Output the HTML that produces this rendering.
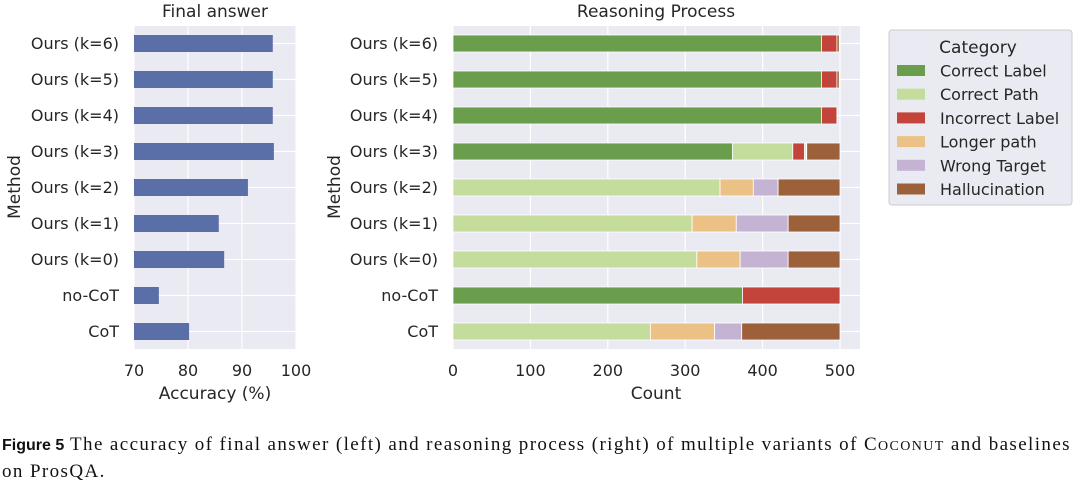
<!DOCTYPE html>
<html><head><meta charset="utf-8"><style>
body{margin:0;background:#fff;width:1080px;height:488px;overflow:hidden;font-family:"DejaVu Sans","Liberation Sans",sans-serif}
svg text{font-family:"DejaVu Sans","Liberation Sans",sans-serif;fill:#262626}
.cap{position:absolute;left:2px;top:432px;font-family:"Liberation Serif",serif;font-size:19px;letter-spacing:1.4px;line-height:25px;color:#111;width:1078px;white-space:nowrap}
</style></head><body>
<svg id="chart" width="1080" height="430" style="position:absolute;left:0;top:0"></svg>
<div class="cap"><b style="font-family:'Liberation Sans',sans-serif;font-size:16px;letter-spacing:0">Figure 5</b> The accuracy of final answer (left) and reasoning process (right) of multiple variants of C<span style="font-size:14px">OCONUT</span> and baselines<br>on ProsQA.</div>
<script>
const methods=["Ours (k=6)","Ours (k=5)","Ours (k=4)","Ours (k=3)","Ours (k=2)","Ours (k=1)","Ours (k=0)","no-CoT","CoT"];
const accuracy=[95.7,95.7,95.7,95.9,91.1,85.7,86.7,74.6,80.2];
const accTicks=[70,80,90,100];
const cntTicks=[0,100,200,300,400,500];
const categories=["Correct Label","Correct Path","Incorrect Label","Longer path","Wrong Target","Hallucination"];
const colors=["#6a9d4c","#c4dd9c","#c2443a","#ecc185","#c4b3d2","#9c613b"];
const correctLabel=[476,476,476,361,0,0,0,374,0];
const correctPath=[0,0,0,78,345,309,315,0,255];
const incorrectLabel=[20,20,20,15,0,0,0,126,0];
const longerPath=[0,0,0,2,43,57,56,0,83];
const wrongTarget=[0,0,0,1,32,67,62,0,35];
const hallucination=[3,3,0,43,80,67,67,0,127];
const series=[correctLabel,correctPath,incorrectLabel,longerPath,wrongTarget,hallucination];
const NS="http://www.w3.org/2000/svg";
const svg=document.getElementById('chart');
function el(t,a,txt){const e=document.createElementNS(NS,t);for(const k in a)e.setAttribute(k,a[k]);if(txt!=null)e.textContent=txt;svg.appendChild(e);return e;}
const topY=26,botY=349,rowH=36;
const yRow=i=>topY+17.5+i*rowH;
// Left panel
const L0=134,L1=296;
const xA=v=>L0+(v-70)/30*(L1-L0);
let r=el('rect',{x:L0,y:topY,width:L1-L0,height:botY-topY,fill:'#eaeaf2'});

accTicks.forEach(t=>{let g=el('line',{x1:xA(t),x2:xA(t),y1:topY,y2:botY,stroke:'#fff','stroke-width':1.2});

let tx=el('text',{x:xA(t),y:376,'text-anchor':'middle','font-size':16},t);
});
methods.forEach((m,i)=>{let g=el('line',{x1:L0,x2:L1,y1:yRow(i),y2:yRow(i),stroke:'#fff','stroke-width':1.2});
});
methods.forEach((m,i)=>{let b=el('rect',{x:L0,y:yRow(i)-8.5,width:xA(accuracy[i])-L0,height:17,fill:'#5a6fa8'});

let t=el('text',{x:L0-15,y:yRow(i)+5.5,'text-anchor':'end','font-size':16},m);
});
let tt=el('text',{x:215,y:17,'text-anchor':'middle','font-size':17},'Final answer');

tt=el('text',{x:215,y:399,'text-anchor':'middle','font-size':17},'Accuracy (%)');

tt=el('text',{x:0,y:0,'text-anchor':'middle','font-size':17,transform:'translate(20,187) rotate(-90)'},'Method');

// Right panel
const R0=453,R1=860;
const xC=v=>R0+v*0.774;
r=el('rect',{x:R0,y:topY,width:R1-R0,height:botY-topY,fill:'#eaeaf2'});

cntTicks.forEach(t=>{let g=el('line',{x1:xC(t),x2:xC(t),y1:topY,y2:botY,stroke:'#fff','stroke-width':1.2});

let tx=el('text',{x:xC(t),y:376,'text-anchor':'middle','font-size':16},t);
});
methods.forEach((m,i)=>{let g=el('line',{x1:R0,x2:R1,y1:yRow(i),y2:yRow(i),stroke:'#fff','stroke-width':1.2});
});
methods.forEach((m,i)=>{let acc=0;
series.forEach((s,k)=>{if(s[i]>0){let b=el('rect',{x:xC(acc),y:yRow(i)-8.5,width:s[i]*0.774,height:17,fill:colors[k],stroke:'#fff','stroke-width':0.8});
}acc+=s[i];});
let t=el('text',{x:R0-15,y:yRow(i)+5.5,'text-anchor':'end','font-size':16},m);
});
tt=el('text',{x:656,y:17,'text-anchor':'middle','font-size':17},'Reasoning Process');

tt=el('text',{x:656,y:399,'text-anchor':'middle','font-size':17},'Count');

tt=el('text',{x:0,y:0,'text-anchor':'middle','font-size':17,transform:'translate(340,187) rotate(-90)'},'Method');

// Legend
let lg=el('rect',{x:889,y:30,width:183,height:175,fill:'#eaeaf2',stroke:'#ccc','stroke-width':1,rx:3});

tt=el('text',{x:978,y:53,'text-anchor':'middle','font-size':17},'Category');

categories.forEach((c,k)=>{const y=71+k*23.7;
let sw=el('rect',{x:897,y:y-6,width:28,height:11,fill:colors[k]});

let t=el('text',{x:940,y:y+5.5,'font-size':16},c);
});
</script>
</body></html>
